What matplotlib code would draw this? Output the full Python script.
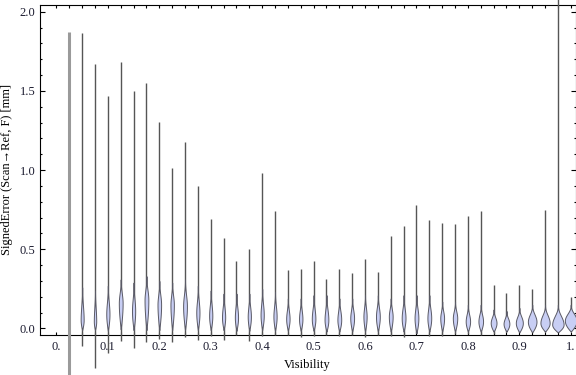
import numpy as np
import matplotlib
matplotlib.use('Agg')
from matplotlib import pyplot as plt
from matplotlib.ticker import FixedLocator

# one violin every 0.025 in visibility
visibility = np.arange(1, 41) * 0.025

# whisker range of the signed error [mm]
err_max = [1.87, 1.865, 1.673, 1.469, 1.683, 1.50, 1.55, 1.306, 1.015, 1.179,
           0.90, 0.691, 0.573, 0.424, 0.50, 0.984, 0.744, 0.369, 0.375, 0.426,
           0.31, 0.374, 0.35, 0.437, 0.359, 0.585, 0.645, 0.78, 0.685, 0.665,
           0.66, 0.71, 0.74, 0.275, 0.222, 0.275, 0.248, 0.747, 2.12, 0.20]
err_min = [-0.30, -0.11, -0.251, -0.157, -0.077, -0.125, -0.088, -0.068, -0.083, -0.055,
           -0.073, -0.047, -0.075, -0.041, -0.077, -0.047, -0.041, -0.041, -0.056, -0.047,
           -0.041, -0.047, -0.041, -0.056, -0.041, -0.05, -0.056, -0.026, -0.047, -0.047,
           -0.035, -0.035, -0.038, -0.032, -0.02, -0.02, -0.02, -0.02, -0.02, -0.01]

# body of each violin: lower end, mode, upper end, peak density (arb. units)
bulb_low = [0.0, -0.01, -0.01, -0.015, -0.005, -0.01, -0.01, -0.01, -0.01, -0.01,
            -0.01, -0.01, -0.01, -0.015, -0.015, -0.01, -0.015, -0.015, -0.015, -0.015,
            -0.02, -0.02, -0.02, -0.02, -0.02, -0.02, -0.02, -0.03, -0.02, -0.02,
            -0.02, -0.02, -0.02, -0.02, -0.02, -0.025, -0.025, -0.02, -0.025, -0.02]
bulb_mode = [0.0, 0.054, 0.045, 0.09, 0.16, 0.11, 0.18, 0.15, 0.15, 0.14,
             0.10, 0.08, 0.07, 0.07, 0.075, 0.085, 0.075, 0.06, 0.06, 0.06,
             0.055, 0.055, 0.065, 0.075, 0.075, 0.075, 0.065, 0.065, 0.065, 0.065,
             0.065, 0.045, 0.045, 0.035, 0.03, 0.035, 0.043, 0.035, 0.025, 0.05]
bulb_high = [0.0, 0.26, 0.24, 0.27, 0.31, 0.29, 0.33, 0.30, 0.29, 0.31,
             0.27, 0.24, 0.22, 0.22, 0.22, 0.25, 0.23, 0.19, 0.19, 0.21,
             0.21, 0.19, 0.19, 0.21, 0.21, 0.19, 0.21, 0.21, 0.21, 0.17,
             0.17, 0.15, 0.15, 0.12, 0.11, 0.13, 0.15, 0.15, 0.15, 0.15]
peak_density = [0.0, 1.6, 1.3, 1.7, 2.0, 1.7, 2.0, 1.9, 1.8, 2.0,
                1.7, 1.7, 1.7, 1.7, 1.7, 1.7, 1.7, 1.8, 1.8, 1.9,
                2.0, 2.0, 2.0, 1.7, 2.0, 2.0, 2.0, 2.0, 2.0, 2.0,
                2.3, 2.3, 2.4, 3.0, 3.0, 3.6, 4.4, 4.7, 5.8, 6.0]

tick_vals = np.round(np.arange(0, 11) * 0.1, 1)
tick_labels = ['0.', '0.1', '0.2', '0.3', '0.4', '0.5', '0.6', '0.7', '0.8', '0.9', '1.']

plt.rcParams['font.family'] = ['Liberation Serif', 'DejaVu Serif']

fig = plt.figure(figsize=(5.76, 3.75), dpi=100)
ax = fig.add_axes([0.0686, 0.1067, 0.9306, 0.8813])

px = 1.0 / 514.3  # data units per pixel along x


def violin_profile(lo, md, hi, n=60):
    y1 = np.linspace(lo, md, n)
    s1 = np.sin(0.5 * np.pi * (y1 - lo) / (md - lo))
    y2 = np.linspace(md, hi, n)[1:]
    s2 = ((1 + np.cos(np.pi * (y2 - md) / (hi - md))) / 2) ** 1.2
    return np.r_[y1, y2], np.r_[s1, s2]


for i, x in enumerate(visibility):
    w = peak_density[i]
    lw = 2.2 if w == 0 else 1.0
    col = '#9a9a9a' if w == 0 else '#555555'
    ax.plot([x, x], [err_min[i], err_max[i]], color=col, lw=lw, clip_on=False,
            zorder=3, solid_capstyle='butt')
    if w > 0:
        yy, ss = violin_profile(bulb_low[i], bulb_mode[i], bulb_high[i])
        half = (w - 0.1) * px * ss
        ax.fill_betweenx(yy, x - half, x + half, facecolor='#c8cef4',
                         edgecolor='#5a5a66', lw=0.7, zorder=4, clip_on=False)

ax.set_xlim(-0.0329, 1.0093)
ax.set_ylim(-0.041, 2.0455)

ax.xaxis.set_major_locator(FixedLocator(tick_vals))
ax.xaxis.set_minor_locator(FixedLocator(np.arange(0, 41) * 0.025))
ax.set_xticklabels(tick_labels)
ax.set_yticks([0.0, 0.5, 1.0, 1.5, 2.0])
ax.set_yticklabels(['0.0', '0.5', '1.0', '1.5', '2.0'])
ax.yaxis.set_minor_locator(FixedLocator(np.arange(0, 21) * 0.1))

ax.tick_params(axis='x', which='both', direction='in', top=True, length=2.3,
               width=0.8, pad=4, labelsize=9, labelcolor='#1c1c30')
ax.tick_params(axis='y', which='major', direction='in', right=True, length=3.4,
               width=0.8, pad=3, labelsize=9, labelcolor='#1c1c30')
ax.tick_params(axis='y', which='minor', direction='in', right=True, length=1.7,
               width=0.8)
for sp in ax.spines.values():
    sp.set_linewidth(0.8)
    sp.set_zorder(2)

ax.set_xlabel('Visibility', fontsize=9, labelpad=5)
ax.set_ylabel('SignedError (Scan\u2192Ref, F) [mm]', fontsize=9, labelpad=5)

fig.savefig('out.png', dpi=100)
